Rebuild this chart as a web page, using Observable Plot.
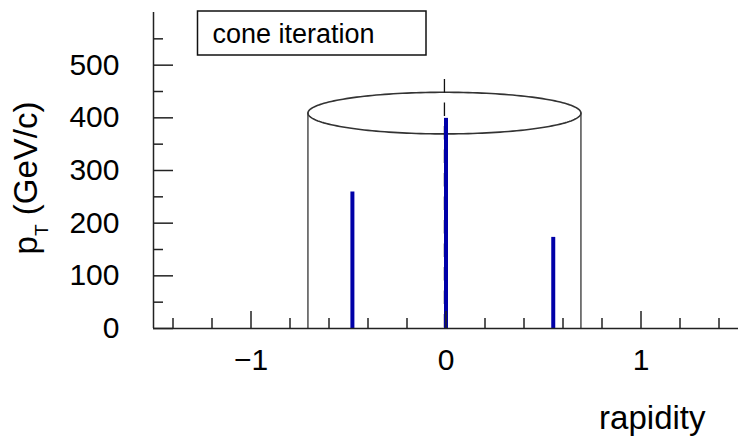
<!DOCTYPE html>
<html><head><meta charset="utf-8">
<script src="https://cdn.jsdelivr.net/npm/d3@7"></script>
<script src="https://cdn.jsdelivr.net/npm/@observablehq/plot@0.6"></script>
<style>body{margin:0;background:#fff}</style>
</head><body><div id="chart"></div>
<script>
// jets (rapidity, pT in GeV/c)
const jetRapidity = [-0.48, 0, 0.55];
const jetPt = [259, 399, 173];
// cone
const coneAxis = [-0.008];
const coneRadius = [0.70];
const coneHeight = [409];
const coneTilt = [39.5];     // half-height of the ellipse, in GeV/c
const coneAxisTop = [473];
// axes
const xDomain = [-1.5, 1.5];
const yDomain = [0, 600];
const xMajorTicks = [-1, 0, 1];
const xMinorTicks = [-1.4, -1.2, -0.8, -0.6, -0.4, -0.2, 0.2, 0.4, 0.6, 0.8, 1.2, 1.4];
const yMajorTicks = [0, 100, 200, 300, 400, 500];
const yMinorTicks = [50, 150, 250, 350, 450, 550];
const xTitle = ["rapidity"];
const legendLabel = "cone iteration";

const jets = jetRapidity.map((x, i) => ({x, pt: jetPt[i]}));
const c = coneAxis[0], R = coneRadius[0], H = coneHeight[0], T = coneTilt[0];
const ellipse = d3.range(0, 361, 2).map(a => ({
  x: c + R * Math.cos(a * Math.PI / 180),
  y: H + T * Math.sin(a * Math.PI / 180)
}));
const fmt = d => d < 0 ? "\u2212" + Math.abs(d) : String(d);
const ink = "#222";
const font = "'Liberation Sans', Arial, Helvetica, sans-serif";

const plot = Plot.plot({
  width: 738, height: 437,
  marginLeft: 153, marginRight: 0, marginTop: 12, marginBottom: 109,
  style: {fontFamily: font, background: "#fff", color: "#000"},
  x: {domain: xDomain, axis: null},
  y: {domain: yDomain, axis: null},
  marks: [
    // cone
    Plot.ruleX([c - R, c + R], {y1: 0, y2: H, stroke: "#333", strokeWidth: 1.3}),
    Plot.line(ellipse, {x: "x", y: "y", stroke: "#333", strokeWidth: 1.6}),
    Plot.ruleX([c], {y1: coneAxisTop[0], y2: 0, stroke: "#111", strokeWidth: 1.3, strokeDasharray: "13.5,10"}),
    // jets
    Plot.ruleX(jets, {x: "x", y1: 0, y2: "pt", stroke: "#0000a8", strokeWidth: 4}),
    // axis lines
    Plot.ruleY([yDomain[0]], {stroke: ink, strokeWidth: 1.5}),
    Plot.ruleX([xDomain[0]], {stroke: ink, strokeWidth: 1.5}),
    // ticks (inward)
    Plot.axisX(xMajorTicks, {anchor: "bottom", label: null, tickSize: -17, tickFormat: () => "", stroke: ink, strokeWidth: 1.5}),
    Plot.axisX(xMinorTicks, {anchor: "bottom", label: null, tickSize: -10, tickFormat: () => "", stroke: ink, strokeWidth: 1.5}),
    Plot.axisY(yMajorTicks, {anchor: "left", label: null, tickSize: -20, tickFormat: () => "", stroke: ink, strokeWidth: 1.5}),
    Plot.axisY(yMinorTicks, {anchor: "left", label: null, tickSize: -10, tickFormat: () => "", stroke: ink, strokeWidth: 1.5}),
    // tick labels
    Plot.axisX(xMajorTicks, {anchor: "bottom", label: null, tickSize: 0, tickPadding: 20, tickFormat: fmt, fontSize: 30, fill: "#000"}),
    Plot.axisY(yMajorTicks, {anchor: "left", label: null, tickSize: 0, tickPadding: 34, tickFormat: fmt, fontSize: 30, fill: "#000"}),
    // x title
    Plot.text(xTitle, {frameAnchor: "bottom-right", dx: -33, dy: 90, textAnchor: "end", lineAnchor: "middle", fontSize: 33, fill: "#000"})
  ]
});
document.getElementById("chart").appendChild(plot);

const svg = d3.select(plot);
// y title with subscript
const yt = svg.append("text")
  .attr("transform", "translate(37,178) rotate(-90)")
  .attr("text-anchor", "middle")
  .attr("font-family", font)
  .attr("font-size", 33)
  .attr("fill", "#000");
yt.append("tspan").text("p");
yt.append("tspan").attr("font-size", 19).attr("dy", 11).text("T");
yt.append("tspan").attr("dy", -11).text("\u00a0(GeV/c)");

// legend box
const lg = svg.append("g");
lg.append("rect").attr("x", 197.5).attr("y", 11).attr("width", 228.5).attr("height", 44)
  .attr("fill", "#fff").attr("stroke", "#111").attr("stroke-width", 1.5);
lg.append("text").attr("x", 212.5).attr("y", 43).attr("text-anchor", "start")
  .attr("font-family", font).attr("font-size", 27).attr("fill", "#000").text(legendLabel);
</script>
</body></html>
